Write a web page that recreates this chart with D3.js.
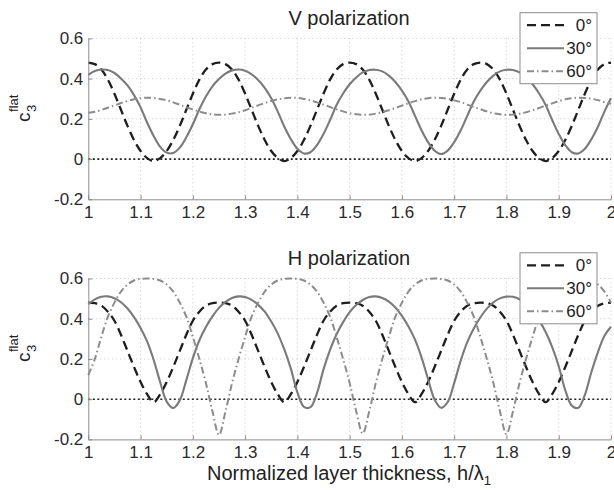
<!DOCTYPE html>
<html>
<head>
<meta charset="utf-8">
<script src="https://cdn.jsdelivr.net/npm/d3@7"></script>
<style>
  body { margin: 0; background: #fff; }
  svg { display: block; font-family: "Liberation Sans", Arial, sans-serif; }
  .axis path, .axis line { stroke: #8c8c8c; }
  .axis text { fill: #2a2a2a; font-size: 17px; }
</style>
</head>
<body>
<div id="chart"></div>
<script>
// normalized layer thickness h/lambda1, sampled every 0.0125
const thickness = d3.range(81).map(i => 1 + i * 0.0125);

const angles = ["0°", "30°", "60°"];
const xTicks = [1, 1.1, 1.2, 1.3, 1.4, 1.5, 1.6, 1.7, 1.8, 1.9, 2];
const yTicks = [-0.2, 0, 0.2, 0.4, 0.6];

// V polarization
const v0 = [
  0.48, 0.472, 0.445, 0.395, 0.325, 0.245, 0.165, 0.095, 0.04, 0.005, -0.01, 0.005, 0.04, 0.095, 0.165, 0.245, 0.325, 0.395, 0.445, 0.472,
  0.48, 0.472, 0.445, 0.395, 0.325, 0.245, 0.165, 0.095, 0.04, 0.005, -0.01, 0.005, 0.04, 0.095, 0.165, 0.245, 0.325, 0.395, 0.445, 0.472,
  0.48, 0.472, 0.445, 0.395, 0.325, 0.245, 0.165, 0.095, 0.04, 0.005, -0.01, 0.005, 0.04, 0.095, 0.165, 0.245, 0.325, 0.395, 0.445, 0.472,
  0.48, 0.472, 0.445, 0.395, 0.325, 0.245, 0.165, 0.095, 0.04, 0.005, -0.01, 0.005, 0.04, 0.095, 0.165, 0.245, 0.325, 0.395, 0.445, 0.472,
  0.48
];
const v30 = [
  0.419, 0.438, 0.445, 0.443, 0.428, 0.401, 0.366, 0.318, 0.257, 0.182,
  0.115, 0.061, 0.032, 0.030, 0.057, 0.108, 0.173, 0.248, 0.311, 0.362,
  0.398, 0.425, 0.441, 0.445, 0.439, 0.421, 0.393, 0.354, 0.302, 0.236,
  0.161, 0.099, 0.051, 0.028, 0.034, 0.069, 0.125, 0.194, 0.269, 0.326,
  0.372, 0.406, 0.431, 0.443, 0.444, 0.436, 0.415, 0.383, 0.340, 0.286,
  0.215, 0.143, 0.084, 0.042, 0.025, 0.042, 0.084, 0.143, 0.215, 0.286,
  0.340, 0.383, 0.415, 0.436, 0.444, 0.443, 0.431, 0.406, 0.372, 0.326,
  0.269, 0.194, 0.125, 0.069, 0.034, 0.028, 0.051, 0.099, 0.161, 0.236,
  0.302
];
const v60 = [
  0.230, 0.235, 0.244, 0.255, 0.267, 0.279, 0.289, 0.297, 0.303, 0.305,
  0.304, 0.299, 0.292, 0.282, 0.270, 0.258, 0.247, 0.236, 0.228, 0.222,
  0.220, 0.221, 0.226, 0.233, 0.243, 0.255, 0.267, 0.278, 0.289, 0.297,
  0.303, 0.305, 0.304, 0.299, 0.292, 0.282, 0.271, 0.259, 0.247, 0.237,
  0.228, 0.223, 0.220, 0.221, 0.226, 0.233, 0.243, 0.254, 0.266, 0.278,
  0.288, 0.297, 0.303, 0.305, 0.304, 0.300, 0.292, 0.283, 0.271, 0.259,
  0.248, 0.237, 0.228, 0.223, 0.220, 0.221, 0.225, 0.233, 0.242, 0.254,
  0.266, 0.277, 0.288, 0.297, 0.302, 0.305, 0.304, 0.300, 0.293, 0.283,
  0.275
];

// H polarization
const h0 = [
  0.48, 0.477, 0.465, 0.435, 0.39, 0.32, 0.24, 0.16, 0.085, 0.025, -0.015, 0.025, 0.085, 0.16, 0.24, 0.32, 0.39, 0.435, 0.465, 0.477,
  0.48, 0.477, 0.465, 0.435, 0.39, 0.32, 0.24, 0.16, 0.085, 0.025, -0.015, 0.025, 0.085, 0.16, 0.24, 0.32, 0.39, 0.435, 0.465, 0.477,
  0.48, 0.477, 0.465, 0.435, 0.39, 0.32, 0.24, 0.16, 0.085, 0.025, -0.015, 0.025, 0.085, 0.16, 0.24, 0.32, 0.39, 0.435, 0.465, 0.477,
  0.48, 0.477, 0.465, 0.435, 0.39, 0.32, 0.24, 0.16, 0.085, 0.025, -0.015, 0.025, 0.085, 0.16, 0.24, 0.32, 0.39, 0.435, 0.465, 0.477,
  0.48
];
const h30 = [
  0.472, 0.496, 0.509, 0.511, 0.502, 0.482, 0.451, 0.408, 0.354, 0.287,
  0.196, 0.085, -0.012, -0.044, -0.006, 0.095, 0.204, 0.293, 0.359, 0.412,
  0.454, 0.484, 0.503, 0.511, 0.508, 0.494, 0.469, 0.435, 0.386, 0.326,
  0.248, 0.152, 0.034, -0.038, -0.040, 0.030, 0.148, 0.245, 0.323, 0.383,
  0.433, 0.468, 0.493, 0.508, 0.511, 0.503, 0.485, 0.456, 0.414, 0.361,
  0.296, 0.208, 0.100, -0.002, -0.043, -0.015, 0.080, 0.192, 0.284, 0.352,
  0.406, 0.450, 0.481, 0.501, 0.510, 0.509, 0.497, 0.473, 0.439, 0.392,
  0.334, 0.259, 0.164, 0.045, -0.032, -0.043, 0.021, 0.135, 0.234, 0.315,
  0.360
];
const h60 = [
  0.12, 0.2, 0.31, 0.41, 0.48, 0.535, 0.57, 0.59, 0.598, 0.6,
  0.598, 0.59, 0.57, 0.535, 0.48, 0.41, 0.31, 0.2, 0.08, -0.06,
  -0.178, -0.06, 0.08, 0.2, 0.31, 0.41, 0.48, 0.535, 0.57, 0.59,
  0.598, 0.6, 0.598, 0.59, 0.57, 0.535, 0.48, 0.41, 0.31, 0.2,
  0.08, -0.06, -0.171, -0.06, 0.08, 0.2, 0.31, 0.41, 0.48, 0.535,
  0.57, 0.59, 0.598, 0.6, 0.598, 0.59, 0.57, 0.535, 0.48, 0.41,
  0.31, 0.2, 0.08, -0.06, -0.174, -0.06, 0.08, 0.2, 0.31, 0.41,
  0.48, 0.535, 0.57, 0.59, 0.598, 0.6, 0.598, 0.59, 0.57, 0.535,
  0.48
];

const width = 614, height = 490;
const left = 88.3, right = 611;
const panels = [
  {title: "V polarization", top: 38.4, series: [v0, v30, v60]},
  {title: "H polarization", top: 278.5, series: [h0, h30, h60]}
];
const panelH = 160.9;

// line looks for 0°, 30°, 60°
const looks = [
  {color: "#1e1e1e", width: 2.3, dash: "9,5"},
  {color: "#7a7a7a", width: 2.1, dash: null},
  {color: "#8c8c8c", width: 2, dash: "7,3,1.5,3"}
];

let svg = d3.select("#chart").append("svg")
  .attr("width", width)
  .attr("height", height);

let x = d3.scaleLinear().domain([1, 2]).range([left, right]);

panels.forEach((p, pi) => {
  let y = d3.scaleLinear().domain([-0.2, 0.6]).range([p.top + panelH, p.top]);
  let g = svg.append("g");

  // grid
  g.append("g").selectAll("line")
    .data(xTicks.slice(1))
    .enter().append("line")
    .attr("x1", d => x(d)).attr("x2", d => x(d))
    .attr("y1", y(-0.2)).attr("y2", y(0.6))
    .attr("stroke", "#c4c4c4").attr("stroke-width", 1)
    .attr("stroke-dasharray", "1,3");
  g.append("g").selectAll("line")
    .data(yTicks.filter(d => d > 0))
    .enter().append("line")
    .attr("x1", x(1)).attr("x2", x(2))
    .attr("y1", d => y(d)).attr("y2", d => y(d))
    .attr("stroke", "#c4c4c4").attr("stroke-width", 1)
    .attr("stroke-dasharray", "1,3");

  // zero reference line
  g.append("line")
    .attr("x1", x(1)).attr("x2", x(2))
    .attr("y1", y(0)).attr("y2", y(0))
    .attr("stroke", "#222").attr("stroke-width", 1.6)
    .attr("stroke-dasharray", "2,2.5");

  // curves
  let line = d3.line()
    .curve(d3.curveCatmullRom.alpha(0.5))
    .x((d, i) => x(thickness[i]))
    .y(d => y(d));

  p.series.forEach((s, si) => {
    g.append("path")
      .datum(s)
      .attr("fill", "none")
      .attr("stroke", looks[si].color)
      .attr("stroke-width", looks[si].width)
      .attr("stroke-dasharray", looks[si].dash)
      .attr("d", line);
  });

  // axes, ticks pointing inward
  g.append("g")
    .attr("class", "axis")
    .attr("transform", "translate(0," + y(-0.2) + ")")
    .call(d3.axisBottom(x).tickValues(xTicks).tickSize(-4).tickSizeOuter(0).tickPadding(6.5)
      .tickFormat(d => String(d)));
  g.append("g")
    .attr("class", "axis")
    .attr("transform", "translate(" + x(1) + ",0)")
    .call(d3.axisLeft(y).tickValues(yTicks).tickSize(-4).tickSizeOuter(0).tickPadding(5)
      .tickFormat(d => d === 0 ? "0" : d3.format(".1f")(d).replace("−", "-")));

  // title
  g.append("text")
    .attr("x", 349).attr("y", p.top - 13.5)
    .attr("text-anchor", "middle")
    .attr("font-size", 20).attr("fill", "#222")
    .text(p.title);

  // y label c3^flat
  let yl = g.append("g")
    .attr("transform", "translate(30," + (p.top + 83.5) + ") rotate(-90)")
    .attr("fill", "#222");
  yl.append("text").attr("x", 0).attr("y", 0).attr("font-size", 19).text("c");
  yl.append("text").attr("x", 10).attr("y", 6).attr("font-size", 13).text("3");
  yl.append("text").attr("x", 10).attr("y", -12).attr("font-size", 13).text("flat");

  // legend
  let lg = g.append("g").attr("transform", "translate(520," + (p.top - 25.7) + ")");
  lg.append("rect")
    .attr("width", 77).attr("height", 71)
    .attr("fill", "#fff").attr("stroke", "#8c8c8c").attr("stroke-width", 1);
  angles.forEach((a, ai) => {
    let ry = 12.5 + ai * 23;
    lg.append("line")
      .attr("x1", 7).attr("x2", 44)
      .attr("y1", ry).attr("y2", ry)
      .attr("stroke", looks[ai].color)
      .attr("stroke-width", looks[ai].width)
      .attr("stroke-dasharray", looks[ai].dash);
    lg.append("text")
      .attr("x", 72).attr("y", ry + 6)
      .attr("text-anchor", "end")
      .attr("font-size", 17).attr("fill", "#222")
      .text(a);
  });
});

// x axis label
let xl = svg.append("text")
  .attr("x", 349).attr("y", 480)
  .attr("text-anchor", "middle")
  .attr("font-size", 20).attr("fill", "#222");
xl.append("tspan").text("Normalized layer thickness, h/λ");
xl.append("tspan").attr("font-size", 13).attr("dy", 5).text("1");
</script>
</body>
</html>
